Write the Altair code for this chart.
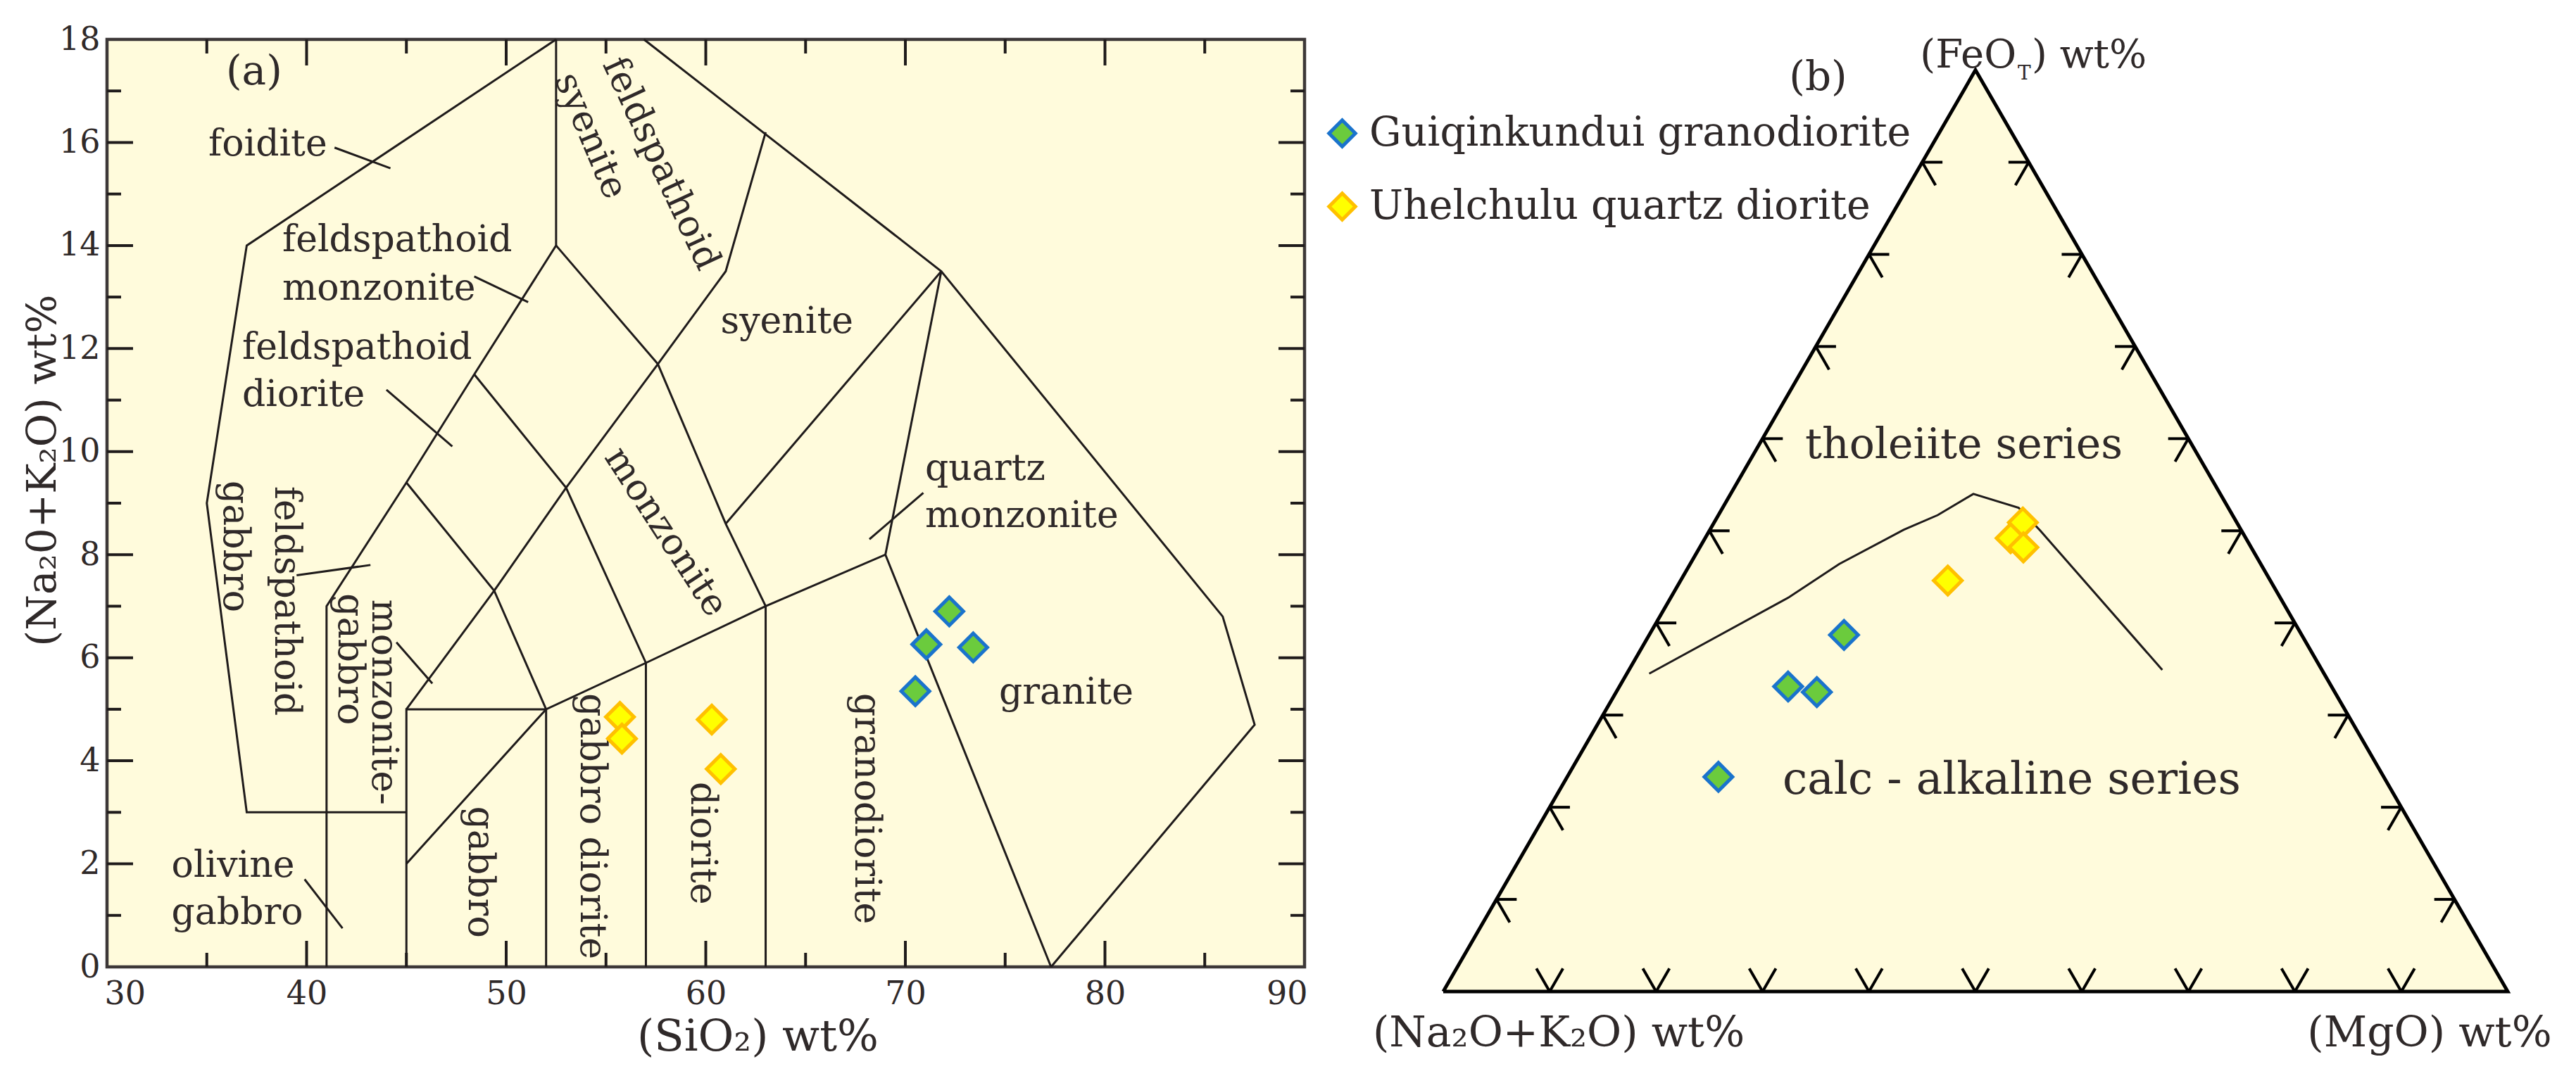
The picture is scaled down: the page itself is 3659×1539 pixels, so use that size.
import math
import altair as alt
import pandas as pd

FONT = "DejaVu Serif"
INK = "#2f2929"
LINE = "#1f1b1b"
BG = "#FFFBDC"

SERIES = ["Guiqinkundui granodiorite", "Uhelchulu quartz diorite"]
FILLS = ["#6BCB3D", "#FFFF00"]
STROKES = ["#1A73CC", "#FFC000"]

# ---------------- panel (a): TAS samples ----------------
gq_sio2 = [72.2, 71.05, 73.4, 70.5]
gq_alk = [6.9, 6.26, 6.2, 5.35]
uh_sio2 = [55.7, 55.8, 60.3, 60.75]
uh_alk = [4.85, 4.43, 4.8, 3.84]

# ---------------- panel (b): AFM samples (A, F, M) ----------------
gq_A = [43.0, 51.05, 48.65, 62.5]
gq_F = [38.7, 33.1, 32.5, 23.3]
gq_M = [18.3, 15.85, 18.85, 14.2]
uh_A = [20.1, 22.1, 21.4, 30.3]
uh_F = [50.9, 49.2, 48.2, 44.6]
uh_M = [29.0, 28.7, 30.4, 25.1]

# tholeiite / calc-alkaline boundary
ib_A = [63.4, 46.1, 39.6, 31.7, 27.7, 23.2, 19.7, 18.9, 15.0]
ib_F = [34.5, 42.8, 46.4, 50.1, 51.7, 54.0, 52.5, 50.0, 34.9]
ib_M = [2.1, 11.1, 14.0, 18.2, 20.6, 22.8, 27.8, 31.1, 50.1]

# axis values panel (a)
x_label_values = [30, 40, 50, 60, 70, 80, 90]
y_label_values = [0, 2, 4, 6, 8, 10, 12, 14, 16, 18]
x_major_ticks = [40, 50, 60, 70, 80]
x_minor_ticks = [35, 45, 55, 65, 75, 85]
y_major_ticks = [2, 4, 6, 8, 10, 12, 14, 16]
y_minor_ticks = [1, 3, 5, 7, 9, 11, 13, 15, 17]

# TAS (plutonic) field boundaries (SiO2, Na2O+K2O)
b_left = [(52.5, 18), (37, 14), (35, 9), (37, 3), (45, 3)]
b_foid = [(41, 0), (41, 7), (45, 9.4), (48.4, 11.5), (52.5, 14), (52.5, 18)]
b_gabbro = [(45, 0), (45, 5), (52, 5), (52, 0)]
b_sub = [(45, 2), (52, 5), (57, 5.9), (63, 7), (69, 8), (77.3, 0)]
b_mid = [(45, 5), (49.4, 7.3), (53, 9.3), (57.6, 11.7), (61, 13.5), (63, 16.2)]
b_c1 = [(45, 9.4), (49.4, 7.3), (52, 5)]
b_c2 = [(48.4, 11.5), (53, 9.3), (57, 5.9), (57, 0)]
b_c3 = [(52.5, 14), (57.6, 11.7), (61, 8.6), (63, 7), (63, 0)]
b_c4 = [(61, 8.6), (71.8, 13.5)]
b_c5 = [(69, 8), (71.8, 13.5)]
b_outer = [(56.9, 18), (71.8, 13.5), (85.9, 6.8), (87.5, 4.7), (77.3, 0)]
boundaries = [b_left, b_foid, b_gabbro, b_sub, b_mid, b_c1, b_c2, b_c3, b_c4, b_c5, b_outer]

# leader lines (x, y, x2, y2)
leaders = [
    (41.4, 15.9, 44.2, 15.5),
    (48.4, 13.4, 51.1, 12.9),
    (44.0, 11.2, 47.3, 10.1),
    (39.5, 7.6, 43.2, 7.8),
    (44.5, 6.3, 46.3, 5.5),
    (39.9, 1.7, 41.8, 0.75),
    (70.9, 9.2, 68.2, 8.3),
]

# horizontal field names (text, left x, baseline y)
labels_h = [
    ("foidite", 35.08, 15.74),
    ("feldspathoid", 38.78, 13.89),
    ("monzonite", 38.78, 12.95),
    ("feldspathoid", 36.77, 11.80),
    ("diorite", 36.77, 10.89),
    ("syenite", 60.74, 12.30),
    ("quartz", 70.99, 9.45),
    ("monzonite", 70.99, 8.54),
    ("granite", 74.69, 5.11),
    ("olivine", 33.23, 1.75),
    ("gabbro", 33.23, 0.83),
]
# rotated field names (text, centre x, centre y, angle)
labels_r = [
    ("syenite", 54.23, 16.13, 67),
    ("feldspathoid", 57.76, 15.59, 65),
    ("monzonite", 58.0, 8.44, 57),
    ("granodiorite", 68.06, 3.07, 90),
    ("diorite", 59.84, 2.40, 90),
    ("gabbro diorite", 54.3, 2.73, 90),
    ("gabbro", 48.7, 1.84, 90),
    ("monzonite-", 43.86, 5.14, 90),
    ("gabbro", 42.17, 5.97, 90),
    ("feldspathoid", 39.01, 7.10, 90),
    ("gabbro", 36.42, 8.16, 90),
]

# ternary tick positions (percent along each edge)
tern_ticks = [10, 20, 30, 40, 50, 60, 70, 80, 90]

# ---------------- helpers ----------------
S3 = math.sqrt(3) / 2


def tern(a, f, m):
    s = a + f + m
    return m / s + f / s / 2, f / s * S3


fill_scale = alt.Scale(domain=SERIES, range=FILLS)
stroke_scale = alt.Scale(domain=SERIES, range=STROKES)
LEG = alt.Legend(
    orient="none", legendX=1726, legendY=105, title=None, symbolType="diamond",
    symbolSize=1400, symbolStrokeWidth=5, symbolOpacity=1, labelFont=FONT,
    labelFontSize=57, labelColor=INK, labelOffset=10, rowPadding=45, padding=0,
    labelLimit=2000,
)

# ================= panel (a) =================
W_A, H_A = 1701, 1318
sx = alt.Scale(domain=[30, 90], nice=False, zero=False)
sy = alt.Scale(domain=[0, 18], nice=False, zero=False)
x_axis = alt.Axis(
    values=x_label_values, format="d", title="(SiO₂) wt%", ticks=False, domain=False,
    grid=False, labelFont=FONT, labelFontSize=46, labelColor=INK, labelPadding=16,
    labelFlush=True, labelFlushOffset=4, labelOverlap=False, titleFont=FONT,
    titleFontSize=62, titleFontWeight="normal", titleColor=INK, titleX=924, titleY=118,
    titleAlign="center", titleBaseline="alphabetic",
)
y_axis = alt.Axis(
    values=y_label_values, format="d", title="(Na₂0+K₂O) wt%", ticks=False, domain=False,
    grid=False, labelFont=FONT, labelFontSize=46, labelColor=INK, labelPadding=10,
    labelFlush=False, labelOverlap=False, titleFont=FONT, titleFontSize=58,
    titleFontWeight="normal", titleColor=INK, titleAngle=270, titleX=-74, titleY=612,
    titleAlign="center", titleBaseline="alphabetic",
)


def X(f):
    return alt.X(f, type="quantitative", scale=sx, axis=x_axis)


def Y(f):
    return alt.Y(f, type="quantitative", scale=sy, axis=y_axis)


rows = []
for i, poly in enumerate(boundaries):
    for k, (xv, yv) in enumerate(poly):
        rows.append({"id": i, "k": k, "x": xv, "y": yv})
bdf = pd.DataFrame(rows)
bound_layer = alt.Chart(bdf).mark_line(color=LINE, strokeWidth=3, strokeJoin="miter").encode(
    x=X("x"), y=Y("y"), detail="id:N", order="k:Q"
)

ldf = pd.DataFrame(leaders, columns=["x", "y", "x2", "y2"])
lead_layer = alt.Chart(ldf).mark_rule(color=LINE, strokeWidth=3).encode(
    x=X("x"), y=Y("y"), x2="x2:Q", y2="y2:Q"
)

MAJ, MIN = 37, 20
tick_layers = []
for vals, ln in [(x_major_ticks, MAJ), (x_minor_ticks, MIN)]:
    d = pd.DataFrame({"x": vals})
    tick_layers.append(alt.Chart(d).mark_rule(color=LINE, strokeWidth=4).encode(
        x=X("x"), y=alt.value(H_A), y2=alt.value(H_A - ln)))
    tick_layers.append(alt.Chart(d).mark_rule(color=LINE, strokeWidth=4).encode(
        x=X("x"), y=alt.value(0), y2=alt.value(ln)))
for vals, ln in [(y_major_ticks, MAJ), (y_minor_ticks, MIN)]:
    d = pd.DataFrame({"y": vals})
    tick_layers.append(alt.Chart(d).mark_rule(color=LINE, strokeWidth=4).encode(
        y=Y("y"), x=alt.value(0), x2=alt.value(ln)))
    tick_layers.append(alt.Chart(d).mark_rule(color=LINE, strokeWidth=4).encode(
        y=Y("y"), x=alt.value(W_A), x2=alt.value(W_A - ln)))

lh = pd.DataFrame(labels_h, columns=["t", "x", "y"])
lh_layer = alt.Chart(lh).mark_text(
    font=FONT, fontSize=52, color=INK, align="left", baseline="alphabetic"
).encode(x=X("x"), y=Y("y"), text="t:N")

lr = pd.DataFrame(labels_r, columns=["t", "x", "y", "a"])
lr_layer = alt.Chart(lr).mark_text(
    font=FONT, fontSize=52, color=INK, align="center", baseline="middle"
).encode(x=X("x"), y=Y("y"), text="t:N", angle=alt.Angle("a:Q", scale=None))

tag_a = pd.DataFrame({"t": ["(a)"], "x": [35.96], "y": [17.13]})
tag_a_layer = alt.Chart(tag_a).mark_text(
    font=FONT, fontSize=58, color=INK, align="left", baseline="alphabetic"
).encode(x=X("x"), y=Y("y"), text="t:N")

pa = pd.DataFrame({
    "x": gq_sio2 + uh_sio2,
    "y": gq_alk + uh_alk,
    "s": [SERIES[0]] * len(gq_sio2) + [SERIES[1]] * len(uh_sio2),
})
pts_a = alt.Chart(pa).mark_point(
    shape="diamond", size=1600, strokeWidth=5, opacity=1, fillOpacity=1, filled=True
).encode(
    x=X("x"), y=Y("y"),
    fill=alt.Fill("s:N", scale=fill_scale, legend=LEG),
    stroke=alt.Stroke("s:N", scale=stroke_scale, legend=LEG),
)

panel_a = alt.layer(
    bound_layer, lead_layer, *tick_layers, lh_layer, lr_layer, tag_a_layer, pts_a
).properties(
    width=W_A, height=H_A,
    view=alt.ViewBackground(fill=BG, stroke="#3d3838", strokeWidth=4.5),
)

# ================= panel (b) =================
W_B, H_B = 1512, 1353
bx = alt.Scale(domain=[0, 1], nice=False, zero=False)
by = alt.Scale(domain=[0, H_B / W_B], nice=False, zero=False)


def BX(f):
    return alt.X(f, type="quantitative", scale=bx, axis=None)


def BY(f):
    return alt.Y(f, type="quantitative", scale=by, axis=None)


tri_A = [100, 0, 0, 100]
tri_F = [0, 100, 0, 0]
tri_M = [0, 0, 100, 0]
tri = pd.DataFrame([dict(zip(("x", "y"), tern(a, f, m)), k=i)
                    for i, (a, f, m) in enumerate(zip(tri_A, tri_F, tri_M))])
tri_fill = alt.Chart(tri.iloc[:3].assign(y0=0.0)).mark_area(color=BG, opacity=1).encode(
    x=BX("x"), y=BY("y"), y2="y0:Q"
)
tri_line = alt.Chart(tri).mark_line(color="#000000", strokeWidth=5, strokeJoin="miter").encode(
    x=BX("x"), y=BY("y"), order="k:Q"
)

H_ARM, D_ARM = 0.019, 0.025
trows = []
for p in tern_ticks:
    # left edge (A-F)
    x0, y0 = tern(100 - p, p, 0)
    trows.append((x0, y0, x0 + H_ARM, y0))
    trows.append((x0, y0, x0 + D_ARM * 0.5, y0 - D_ARM * S3))
    # right edge (F-M)
    x0, y0 = tern(0, p, 100 - p)
    trows.append((x0, y0, x0 - H_ARM, y0))
    trows.append((x0, y0, x0 - D_ARM * 0.5, y0 - D_ARM * S3))
    # base (A-M)
    x0, y0 = tern(100 - p, 0, p)
    trows.append((x0, y0, x0 - D_ARM * 0.5, y0 + D_ARM * S3))
    trows.append((x0, y0, x0 + D_ARM * 0.5, y0 + D_ARM * S3))
tdf = pd.DataFrame(trows, columns=["x", "y", "x2", "y2"])
tick_b = alt.Chart(tdf).mark_rule(color="#000000", strokeWidth=4).encode(
    x=BX("x"), y=BY("y"), x2="x2:Q", y2="y2:Q"
)

cdf = pd.DataFrame([dict(zip(("x", "y"), tern(a, f, m)), k=i)
                    for i, (a, f, m) in enumerate(zip(ib_A, ib_F, ib_M))])
curve = alt.Chart(cdf).mark_line(color=LINE, strokeWidth=3).encode(
    x=BX("x"), y=BY("y"), order="k:Q"
)

prow = []
for a, f, m in zip(gq_A, gq_F, gq_M):
    xv, yv = tern(a, f, m)
    prow.append({"x": xv, "y": yv, "s": SERIES[0]})
for a, f, m in zip(uh_A, uh_F, uh_M):
    xv, yv = tern(a, f, m)
    prow.append({"x": xv, "y": yv, "s": SERIES[1]})
pb = pd.DataFrame(prow)
pts_b = alt.Chart(pb).mark_point(
    shape="diamond", size=1600, strokeWidth=5, opacity=1, fillOpacity=1, filled=True
).encode(
    x=BX("x"), y=BY("y"),
    fill=alt.Fill("s:N", scale=fill_scale, legend=LEG),
    stroke=alt.Stroke("s:N", scale=stroke_scale, legend=LEG),
)

# text annotations of panel (b): (text, x, y, align, size)
b_texts = [
    ("(b)", 0.3522, 0.8472, "center", 58),
    ("(FeO", 0.5384, 0.8684, "right", 56),
    ("T", 0.5397, 0.8571, "left", 28),
    (") wt%", 0.5529, 0.8684, "left", 56),
    ("(Na₂O+K₂O) wt%", 0.1085, -0.0516, "center", 60),
    ("(MgO) wt%", 0.9266, -0.0516, "center", 60),
    ("tholeiite series", 0.3399, 0.5013, "left", 60),
    ("calc - alkaline series", 0.3188, 0.1858, "left", 63),
]
text_b_layers = []
for t, xv, yv, al, fs in b_texts:
    d = pd.DataFrame({"t": [t], "x": [xv], "y": [yv]})
    text_b_layers.append(alt.Chart(d).mark_text(
        font=FONT, fontSize=fs, color=INK, align=al, baseline="alphabetic"
    ).encode(x=BX("x"), y=BY("y"), text="t:N"))

panel_b = alt.layer(
    tri_fill, tick_b, curve, tri_line, *text_b_layers, pts_b
).properties(
    width=W_B, height=H_B,
    view=alt.ViewBackground(fill="transparent", stroke="transparent"),
)

chart = alt.hconcat(panel_a, panel_b, spacing=197, bounds="flush").resolve_scale(
    fill="shared", stroke="shared"
).properties(
    padding={"left": 21, "top": 22, "right": 5, "bottom": 5},
    background="white",
)

chart.save("out.html", embed_options={"renderer": "svg", "actions": False})
